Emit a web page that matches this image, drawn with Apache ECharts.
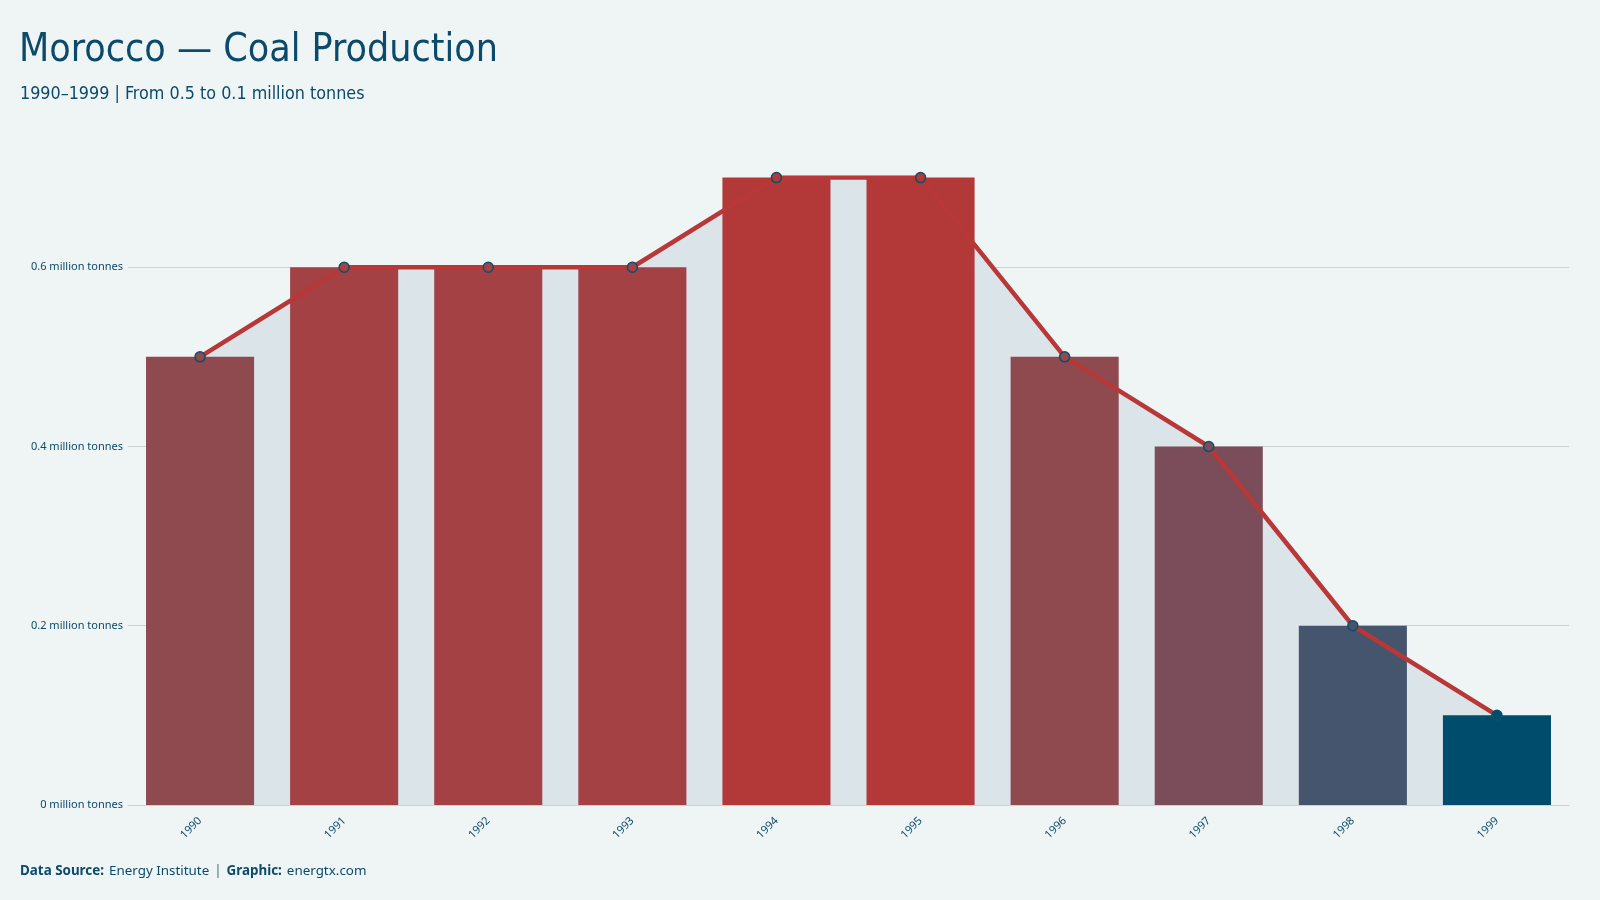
<!DOCTYPE html>
<html>
<head>
<meta charset="utf-8">
<script src="https://cdn.jsdelivr.net/npm/echarts@6/dist/echarts.min.js"></script>
<style>
html,body{margin:0;padding:0;background:#eff5f5;}
#chart{width:1600px;height:900px;}
</style>
</head>
<body>
<div id="chart"></div>
<script>
// ---- data ----
const years = ['1990','1991','1992','1993','1994','1995','1996','1997','1998','1999'];
const production = [0.5, 0.6, 0.6, 0.6, 0.7, 0.7, 0.5, 0.4, 0.2, 0.1];
const unit = 'million tonnes';
const titleText = 'Morocco — Coal Production';
const subtitleText = '1990–1999 | From 0.5 to 0.1 million tonnes';

// ---- style ----
const valueColors = {'0.1':'#004c6d','0.2':'#46556e','0.4':'#7b4c59','0.5':'#8f4a50','0.6':'#a34144','0.7':'#b33838'};
const colorFor = v => valueColors[v.toFixed(1)] || '#8f4a50';
const ink = '#0b4a6a';
const gridColor = '#c9d3d4';
const condensed = '"DejaVu Sans Condensed", "Roboto", sans-serif';

const chart = echarts.init(document.getElementById('chart'));
chart.setOption({
  animation: false,
  backgroundColor: '#eff5f5',
  title: [{
    text: titleText,
    left: 19, top: 31, padding: 0,
    textStyle: {fontFamily: condensed, fontWeight: 'normal', fontSize: 39, color: ink}
  },{
    text: subtitleText,
    left: 20, top: 85, padding: 0,
    textStyle: {fontFamily: condensed, fontWeight: 'normal', fontSize: 17.8, color: ink}
  },{
    text: '{b|Data Source:} {n|Energy Institute} {s||} {b|Graphic:} {n|energtx.com}',
    left: 20, top: 862, padding: 0,
    textStyle: {
      rich: {
        b: {fontFamily: 'Noto Sans', fontWeight: 'bold', fontSize: 13.4, color: ink},
        n: {fontFamily: 'Noto Sans', fontWeight: 'normal', fontSize: 13.4, color: ink},
        s: {fontFamily: 'Noto Sans', fontWeight: 'bold', fontSize: 13.4, color: '#7d97a6'}
      }
    }
  }],
  grid: {left: 128, right: 31, top: 177.6, bottom: 95, containLabel: false},
  xAxis: {
    type: 'category',
    data: years,
    axisTick: {show: false},
    axisLine: {show: true, lineStyle: {color: gridColor}},
    axisLabel: {rotate: 45, fontSize: 11, color: ink, fontFamily: 'Noto Sans', margin: 14}
  },
  yAxis: {
    type: 'value',
    min: 0, max: 0.7, interval: 0.2,
    axisLine: {show: false},
    axisTick: {show: false},
    axisLabel: {
      showMaxLabel: false,
      fontSize: 11, color: ink, fontFamily: 'Noto Sans', margin: 5,
      formatter: v => Number(v.toFixed(1)) + ' ' + unit
    },
    splitLine: {show: true, showMaxLine: false, lineStyle: {color: gridColor, width: 1}}
  },
  series: [{
    name: 'area',
    type: 'line',
    data: production,
    z: 1,
    symbol: 'none',
    lineStyle: {width: 0},
    areaStyle: {color: '#dae4e9', opacity: 1},
    silent: true
  },{
    name: 'bars',
    type: 'bar',
    z: 2,
    barCategoryGap: '25%',
    data: production.map(v => ({value: v, itemStyle: {color: colorFor(v)}}))
  },{
    name: 'line',
    type: 'line',
    z: 3,
    data: production.map(v => ({value: v, itemStyle: {color: colorFor(v), borderColor: '#0b4f6c', borderWidth: 1.5}})),
    symbol: 'circle',
    symbolSize: 10,
    showAllSymbol: true,
    lineStyle: {color: '#b83838', width: 4.5}
  }]
});
</script>
</body>
</html>
